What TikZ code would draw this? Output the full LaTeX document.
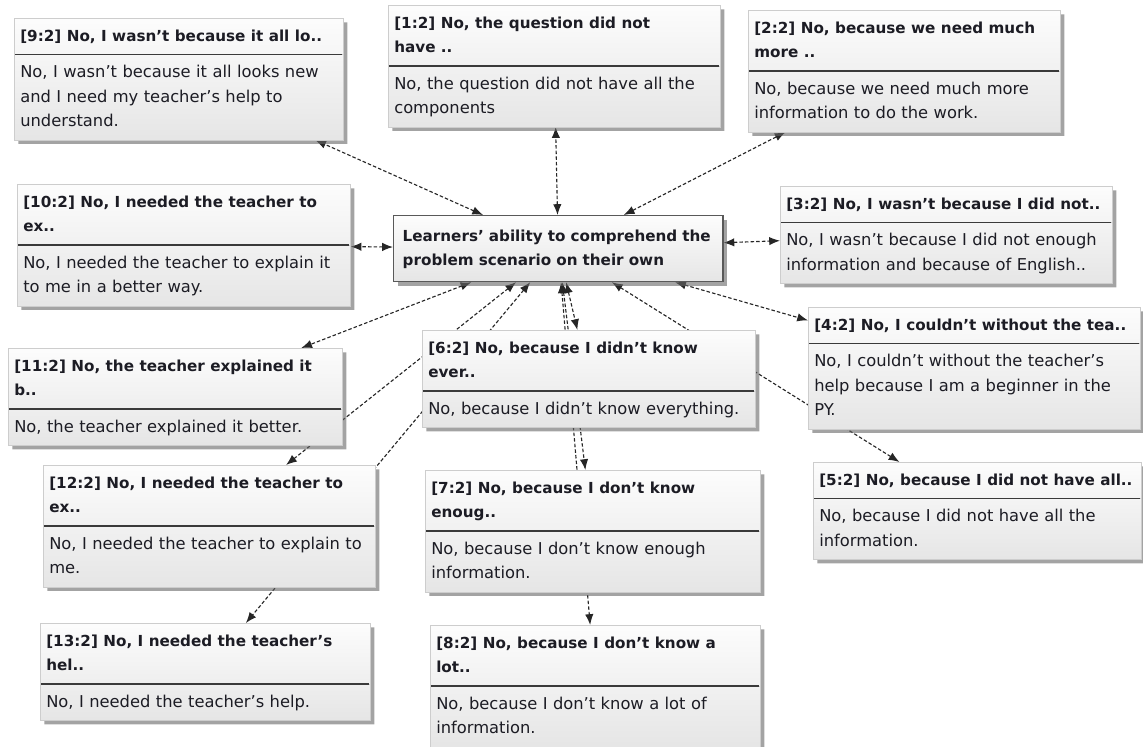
\documentclass[tikz,border=0pt]{standalone}
\usepackage{fontspec}
\setmainfont{DejaVu Sans}
\usetikzlibrary{arrows.meta,shapes.multipart,shadows,backgrounds}
\definecolor{Ink}{HTML}{1C1C24}
\definecolor{Edge}{HTML}{CDCDCD}
\definecolor{Rule}{HTML}{3A3A3A}
\newcommand{\titlefont}{\fontsize{10.8}{17.4}\selectfont\bfseries}

\begin{document}
\begin{tikzpicture}[x=0.025cm,y=-0.025cm,
    quote/.style={rectangle split,rectangle split parts=2,anchor=north west,
      draw=Edge,top color=black!1,bottom color=black!10,
      drop shadow={shadow xshift=0.1cm,shadow yshift=-0.1cm,fill=black!60,opacity=0.6},
      inner xsep=0.15cm,inner ysep=4pt,align=left,text=Ink,
      font=\fontsize{11.6}{17.4}\selectfont},
    theme/.style={rectangle,anchor=north west,draw=black!65,line width=1pt,
      top color=black!1,bottom color=black!10,
      drop shadow={shadow xshift=0.1cm,shadow yshift=-0.1cm,fill=black!60,opacity=0.6},
      inner xsep=0.225cm,inner ysep=6pt,align=left,text=Ink,
      text width=7.775cm,font=\titlefont},
    rulebar/.style={draw=Rule,line width=1.1pt,shorten <=1pt,shorten >=1pt},
    link/.style={{Latex[length=2.7mm,width=2.1mm]}-{Latex[length=2.7mm,width=2.1mm]},
      dashed,dash pattern=on 2.5pt off 1.5pt,line width=0.8pt,black!85}
  ]
  \useasboundingbox (0,0) rectangle (1143,746);

  \node[theme] (ability) at (393,215)
    {\strut Learners' ability to comprehend the\\problem scenario on their own\strut};

  \node[quote,text width=7.925cm] (n9) at (14,18)
    {\strut\titlefont [9:2] No, I wasn't because it all lo..\strut
     \nodepart{two}\strut No, I wasn't because it all looks new\\and I need my teacher's help to\\understand.\strut};
  \node[quote,text width=8.0cm] (n1) at (388,5)
    {\strut\titlefont [1:2] No, the question did not\\have ..\strut
     \nodepart{two}\strut No, the question did not have all the\\components\strut};
  \node[quote,text width=7.5cm] (n2) at (748,10)
    {\strut\titlefont [2:2] No, because we need much\\more ..\strut
     \nodepart{two}\strut No, because we need much more\\information to do the work.\strut};
  \node[quote,text width=8.025cm] (n10) at (17,184)
    {\strut\titlefont [10:2] No, I needed the teacher to\\ex..\strut
     \nodepart{two}\strut No, I needed the teacher to explain it\\to me in a better way.\strut};
  \node[quote,text width=8.0cm] (n3) at (780,186)
    {\strut\titlefont [3:2] No, I wasn't because I did not..\strut
     \nodepart{two}\strut No, I wasn't because I did not enough\\information and because of English..\strut};
  \node[quote,text width=8.0cm] (n4) at (808,307)
    {\strut\titlefont [4:2] No, I couldn't without the tea..\strut
     \nodepart{two}\strut No, I couldn't without the teacher's\\help because I am a beginner in the\\PY.\strut};
  \node[quote,text width=7.9cm] (n5) at (813,462)
    {\strut\titlefont [5:2] No, because I did not have all..\strut
     \nodepart{two}\strut No, because I did not have all the\\information.\strut};
  \node[quote,text width=8.05cm] (n11) at (8,348)
    {\strut\titlefont [11:2] No, the teacher explained it\\b..\strut
     \nodepart{two}\strut No, the teacher explained it better.\strut};
  \node[quote,text width=8.025cm] (n6) at (422,330)
    {\strut\titlefont [6:2] No, because I didn't know\\ever..\strut
     \nodepart{two}\strut No, because I didn't know everything.\strut};
  \node[quote,text width=8.0cm] (n12) at (43,465)
    {\strut\titlefont [12:2] No, I needed the teacher to\\ex..\strut
     \nodepart{two}\strut No, I needed the teacher to explain to\\me.\strut};
  \node[quote,text width=8.075cm] (n7) at (425,470)
    {\strut\titlefont [7:2] No, because I don't know\\enoug..\strut
     \nodepart{two}\strut No, because I don't know enough\\information.\strut};
  \node[quote,text width=7.95cm] (n13) at (40,623)
    {\strut\titlefont [13:2] No, I needed the teacher's\\hel..\strut
     \nodepart{two}\strut No, I needed the teacher's help.\strut};
  \node[quote,text width=7.95cm] (n8) at (430,625)
    {\strut\titlefont [8:2] No, because I don't know a\\lot..\strut
     \nodepart{two}\strut No, because I don't know a lot of\\information.\strut};

  \foreach \n in {n1,n2,n3,n4,n5,n6,n7,n8,n9,n10,n11,n12,n13}
    \draw[rulebar] (\n.text split west) -- (\n.text split east);

  \begin{scope}[on background layer]
    \foreach \n in {n1,n2,n3,n4,n5,n6,n7,n8,n9,n10,n11,n12,n13}
      \draw[link] (ability) -- (\n);
  \end{scope}
\end{tikzpicture}
\end{document}
